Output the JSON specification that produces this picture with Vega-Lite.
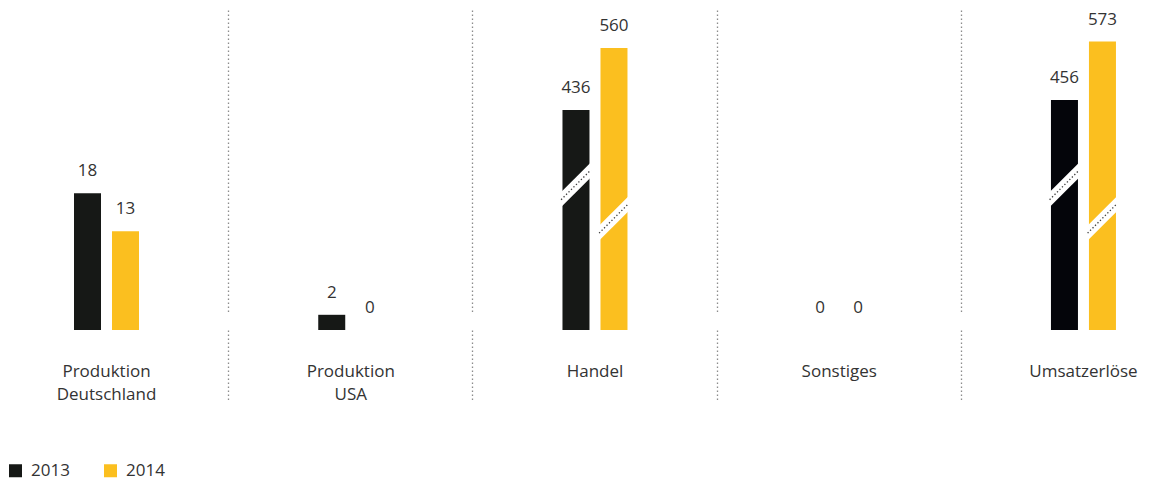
{
  "$schema": "https://vega.github.io/schema/vega-lite/v6.json",
  "width": 1150,
  "height": 320,
  "autosize": {"type": "none"},
  "padding": {"left": 0, "right": 0, "top": 10, "bottom": 149},
  "config": {
    "view": {"stroke": null},
    "font": "Open Sans",
    "text": {"font": "Open Sans"}
  },
  "data": {
    "values": [
      {"category": "Produktion Deutschland", "year": "2013", "value": 18},
      {"category": "Produktion Deutschland", "year": "2014", "value": 13},
      {"category": "Produktion USA", "year": "2013", "value": 2},
      {"category": "Produktion USA", "year": "2014", "value": 0},
      {"category": "Handel", "year": "2013", "value": 436},
      {"category": "Handel", "year": "2014", "value": 560},
      {"category": "Sonstiges", "year": "2013", "value": 0},
      {"category": "Sonstiges", "year": "2014", "value": 0},
      {"category": "Umsatzerlöse", "year": "2013", "value": 456},
      {"category": "Umsatzerlöse", "year": "2014", "value": 573}
    ]
  },
  "encoding": {
    "x": {
      "field": "category",
      "type": "nominal",
      "sort": null,
      "title": null,
      "scale": {"range": [-15.6, 1205.6], "paddingInner": 0, "paddingOuter": 0},
      "axis": {
        "bandPosition": 0,
        "domain": false,
        "grid": true,
        "gridColor": "#8c8c8c",
        "gridDash": [1.5, 2.5],
        "gridWidth": 1.3,
        "ticks": true,
        "tickSize": 72,
        "tickColor": "#8c8c8c",
        "tickDash": [1.5, 2.5],
        "tickWidth": 1.3,
        "labelPadding": -38.4,
        "labelBaseline": "top",
        "labelAngle": 0,
        "labelFontSize": 17,
        "labelColor": "#333333",
        "labelLineHeight": 23,
        "labelOverlap": false,
        "labelBound": false,
        "labelExpr": "split(datum.label, ' ')"
      }
    },
    "xOffset": {
      "field": "year",
      "type": "nominal",
      "scale": {"range": [89.6, 154.6], "paddingInner": 0.2895, "paddingOuter": 0}
    }
  },
  "layer": [
    {
      "mark": {"type": "bar"},
      "encoding": {
        "y": {
          "field": "value",
          "type": "quantitative",
          "axis": null,
          "scale": {"domain": [0, 20, 400, 600], "range": [320, 168, 118, 18], "nice": false, "zero": false}
        },
        "color": {
          "condition": {"test": "datum.category == 'Umsatzerlöse' && datum.year == '2013'", "value": "#04050a"},
          "field": "year",
          "type": "nominal",
          "scale": {"domain": ["2013", "2014"], "range": ["#161816", "#fbbf1f"]},
          "legend": {
            "title": null,
            "orient": "none",
            "direction": "horizontal",
            "legendX": 7,
            "legendY": 452,
            "symbolType": "square",
            "symbolSize": 169,
            "symbolStrokeWidth": 0,
            "labelFontSize": 17,
            "labelColor": "#333333",
            "labelOffset": 7,
            "columnPadding": 32,
            "padding": 0
          }
        }
      }
    },
    {
      "mark": {"type": "text", "baseline": "alphabetic", "dy": -17, "fontSize": 17, "color": "#333333"},
      "encoding": {
        "y": {"field": "value", "type": "quantitative"},
        "text": {"field": "value", "type": "quantitative"}
      }
    },
    {
      "transform": [{"filter": "datum.value > 100 && datum.year == '2013'"}],
      "mark": {"type": "point", "shape": "M-1.15,0.595 L1.15,-1.705 L1.15,-0.595 L-1.15,1.705 Z", "filled": true, "color": "#ffffff", "opacity": 1, "size": 729, "strokeWidth": 0},
      "encoding": {"y": {"datum": 19.1, "type": "quantitative"}}
    },
    {
      "transform": [{"filter": "datum.value > 100 && datum.year == '2014'"}],
      "mark": {"type": "point", "shape": "M-1.15,0.595 L1.15,-1.705 L1.15,-0.595 L-1.15,1.705 Z", "filled": true, "color": "#ffffff", "opacity": 1, "size": 729, "strokeWidth": 0},
      "encoding": {"y": {"datum": 14.7, "type": "quantitative"}}
    },
    {
      "transform": [{"filter": "datum.value > 100 && datum.year == '2013'"}],
      "mark": {"type": "point", "shape": "M-1.1,1.1 L1.1,-1.1", "filled": false, "color": "#3a3a3a", "opacity": 1, "size": 729, "strokeWidth": 1.3, "strokeDash": [1.3, 2.2]},
      "encoding": {"y": {"datum": 19.1, "type": "quantitative"}}
    },
    {
      "transform": [{"filter": "datum.value > 100 && datum.year == '2014'"}],
      "mark": {"type": "point", "shape": "M-1.1,1.1 L1.1,-1.1", "filled": false, "color": "#3a3a3a", "opacity": 1, "size": 729, "strokeWidth": 1.3, "strokeDash": [1.3, 2.2]},
      "encoding": {"y": {"datum": 14.7, "type": "quantitative"}}
    }
  ]
}
